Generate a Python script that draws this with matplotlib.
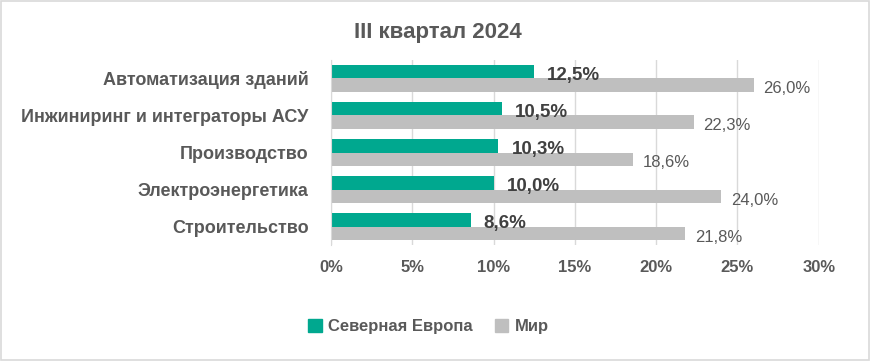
import matplotlib
matplotlib.use('Agg')
import matplotlib.pyplot as plt
from matplotlib.patches import Rectangle, Patch
import numpy as np

categories = ['Автоматизация зданий', 'Инжиниринг и интеграторы АСУ',
              'Производство', 'Электроэнергетика', 'Строительство']
north_europe = [12.5, 10.5, 10.3, 10.0, 8.6]
world = [26.0, 22.3, 18.6, 24.0, 21.8]
x_ticks = [0, 5, 10, 15, 20, 25, 30]

green = '#00a88f'
grey = '#bfbfbf'
text_dark = '#404040'
text_mid = '#595959'

plt.rcParams['font.family'] = ['Liberation Sans', 'DejaVu Sans']

fig = plt.figure(figsize=(8.71, 3.61), dpi=100)
fig.patches.append(Rectangle((0.001, 0.002), 0.997, 0.995, transform=fig.transFigure,
                             fill=False, edgecolor='#d9d9d9', linewidth=1.2))

ax = fig.add_axes([0.380, 0.321, 0.560, 0.513])

pos = np.arange(len(categories))
h = 0.365
ax.barh(pos - h / 2, north_europe, height=h, color=green, label='Северная Европа')
ax.barh(pos + h / 2, world, height=h, color=grey, label='Мир')

for p, v in zip(pos, north_europe):
    ax.text(v + 0.8, p - 0.08, f'{v:.1f}%'.replace('.', ','), va='center', ha='left',
            fontsize=13.5, fontweight='bold', color=text_dark)
for p, v in zip(pos, world):
    ax.text(v + 0.6, p + h / 2 + 0.1, f'{v:.1f}%'.replace('.', ','), va='center', ha='left',
            fontsize=12, color=text_mid)

ax.set_ylim(len(categories) - 0.5, -0.5)
ax.set_xlim(0, 30)
ax.set_yticks(pos)
ax.set_yticklabels(categories, fontsize=13, fontweight='bold', color=text_mid)
ax.set_xticks(x_ticks)
ax.set_xticklabels([f'{t}%' for t in x_ticks], fontsize=12, fontweight='bold', color=text_mid)
ax.tick_params(axis='both', length=0)
ax.tick_params(axis='x', pad=11)
ax.tick_params(axis='y', pad=16)
ax.grid(axis='x', color='#d9d9d9', linewidth=1)
ax.set_axisbelow(True)
for s in ['top', 'right', 'bottom']:
    ax.spines[s].set_visible(False)
ax.spines['left'].set_color('#d9d9d9')

fig.text(0.503, 0.91, 'III квартал 2024', ha='center', va='center',
         fontsize=16, fontweight='bold', color=text_mid)

handles = [Patch(color=green), Patch(color=grey)]
leg = fig.legend(handles, ['Северная Европа', 'Мир'], loc='center', bbox_to_anchor=(0.492, 0.095),
                 ncol=2, frameon=False, handlelength=0.8, handleheight=0.8,
                 columnspacing=1.3, handletextpad=0.4,
                 prop={'weight': 'bold', 'size': 12})
for t in leg.get_texts():
    t.set_color(text_mid)

fig.savefig('out.png', dpi=100)
